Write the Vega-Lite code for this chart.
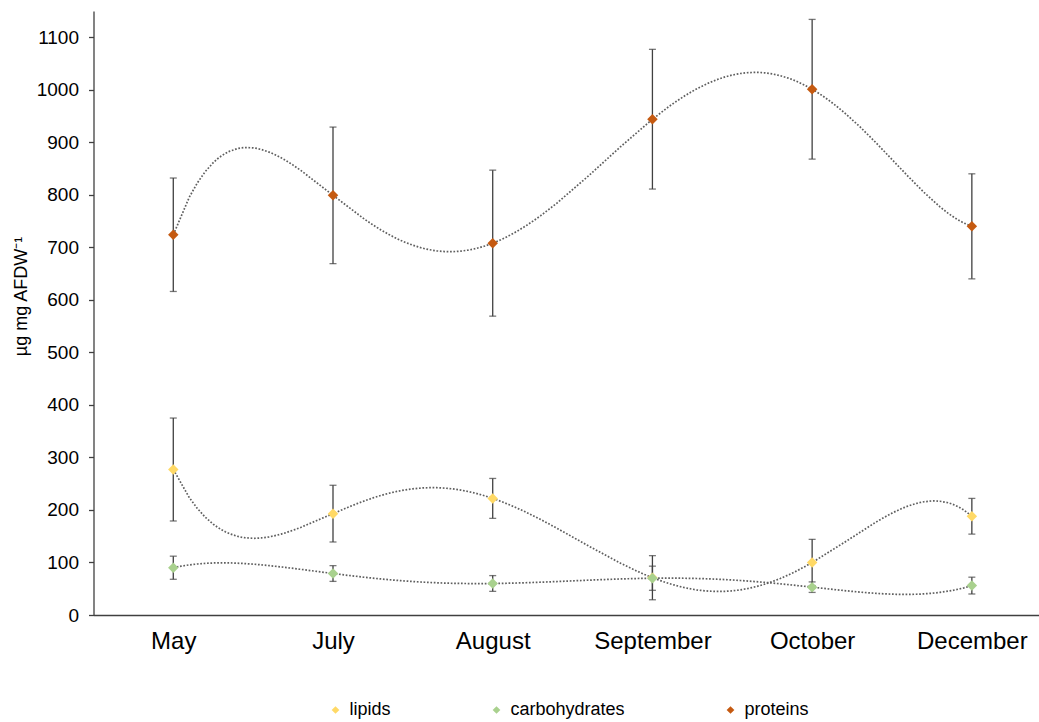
{
  "$schema": "https://vega.github.io/schema/vega-lite/v6.json",
  "width": 945.5,
  "height": 604,
  "autosize": {"type": "none"},
  "padding": {"left": 93.5, "top": 11, "right": 0, "bottom": 107},
  "background": "white",
  "config": {
    "view": {"stroke": null},
    "font": "Liberation Sans"
  },
  "data": {
    "values": [
      {"month": "May", "idx": 0, "nutrient": "lipids", "value": 277, "sd": 98},
      {"month": "July", "idx": 1, "nutrient": "lipids", "value": 193, "sd": 54},
      {"month": "August", "idx": 2, "nutrient": "lipids", "value": 222, "sd": 38},
      {"month": "September", "idx": 3, "nutrient": "lipids", "value": 71, "sd": 42},
      {"month": "October", "idx": 4, "nutrient": "lipids", "value": 100, "sd": 44},
      {"month": "December", "idx": 5, "nutrient": "lipids", "value": 188, "sd": 34},
      {"month": "May", "idx": 0, "nutrient": "carbohydrates", "value": 90, "sd": 22},
      {"month": "July", "idx": 1, "nutrient": "carbohydrates", "value": 79, "sd": 15},
      {"month": "August", "idx": 2, "nutrient": "carbohydrates", "value": 60, "sd": 15},
      {"month": "September", "idx": 3, "nutrient": "carbohydrates", "value": 70, "sd": 23},
      {"month": "October", "idx": 4, "nutrient": "carbohydrates", "value": 53, "sd": 10},
      {"month": "December", "idx": 5, "nutrient": "carbohydrates", "value": 56, "sd": 16},
      {"month": "May", "idx": 0, "nutrient": "proteins", "value": 724, "sd": 108},
      {"month": "July", "idx": 1, "nutrient": "proteins", "value": 799, "sd": 130},
      {"month": "August", "idx": 2, "nutrient": "proteins", "value": 708, "sd": 139},
      {"month": "September", "idx": 3, "nutrient": "proteins", "value": 944, "sd": 133},
      {"month": "October", "idx": 4, "nutrient": "proteins", "value": 1001, "sd": 133},
      {"month": "December", "idx": 5, "nutrient": "proteins", "value": 740, "sd": 100}
    ]
  },
  "encoding": {
    "y": {
      "field": "value",
      "type": "quantitative",
      "scale": {"domain": [0, 1150], "nice": false, "zero": true},
      "axis": {
        "title": "µg mg AFDW⁻¹",
        "values": [0, 100, 200, 300, 400, 500, 600, 700, 800, 900, 1000, 1100],
        "format": "d",
        "grid": false,
        "domainColor": "#404040",
        "domainWidth": 1.3,
        "tickColor": "#404040",
        "tickWidth": 1.3,
        "tickSize": 5,
        "labelFontSize": 19,
        "labelColor": "#000000",
        "labelPadding": 10,
        "titleFontSize": 18,
        "titleFontWeight": "normal",
        "titleColor": "#000000",
        "titleX": -63,
        "titleY": 285
      }
    }
  },
  "layer": [
    {
      "transform": [
        {"regression": "value", "on": "idx", "groupby": ["nutrient"], "method": "poly", "order": 5}
      ],
      "mark": {"type": "line", "color": "#5f5f5f", "strokeWidth": 1.7, "strokeDash": [1.7, 1.7]},
      "encoding": {
        "x": {
          "field": "idx",
          "type": "quantitative",
          "scale": {"domain": [-0.5, 5.42], "nice": false, "zero": false},
          "axis": null
        },
        "detail": {"field": "nutrient", "type": "nominal"}
      }
    },
    {
      "encoding": {
        "x": {
          "field": "month",
          "type": "nominal",
          "sort": ["May", "July", "August", "September", "October", "December"],
          "scale": {"type": "point", "padding": 0.46, "align": 0.543},
          "axis": {
            "orient": "bottom",
            "title": null,
            "labelAngle": 0,
            "labelFontSize": 24,
            "labelColor": "#000000",
            "ticks": false,
            "tickSize": 0,
            "labelPadding": 14,
            "domainColor": "#404040",
            "domainWidth": 1.6
          }
        }
      },
      "layer": [
        {
          "mark": {
            "type": "errorbar",
            "color": "#404040",
            "ticks": {"size": 7, "thickness": 1.3},
            "rule": {"strokeWidth": 1.3}
          },
          "encoding": {"yError": {"field": "sd"}}
        },
        {
          "mark": {"type": "point", "shape": "diamond", "filled": true, "size": 110, "opacity": 1},
          "encoding": {
            "color": {
              "field": "nutrient",
              "type": "nominal",
              "scale": {
                "domain": ["lipids", "carbohydrates", "proteins"],
                "range": ["#FFD966", "#A9D18E", "#C55A11"]
              },
              "legend": {
                "title": null,
                "orient": "none",
                "direction": "horizontal",
                "legendX": 233,
                "legendY": 690,
                "symbolType": "diamond",
                "symbolSize": 60,
                "symbolStrokeWidth": 0,
                "labelFontSize": 18,
                "labelColor": "#000000",
                "labelOffset": 5,
                "columnPadding": 96
              }
            }
          }
        }
      ]
    }
  ],
  "resolve": {"scale": {"x": "independent"}}
}
